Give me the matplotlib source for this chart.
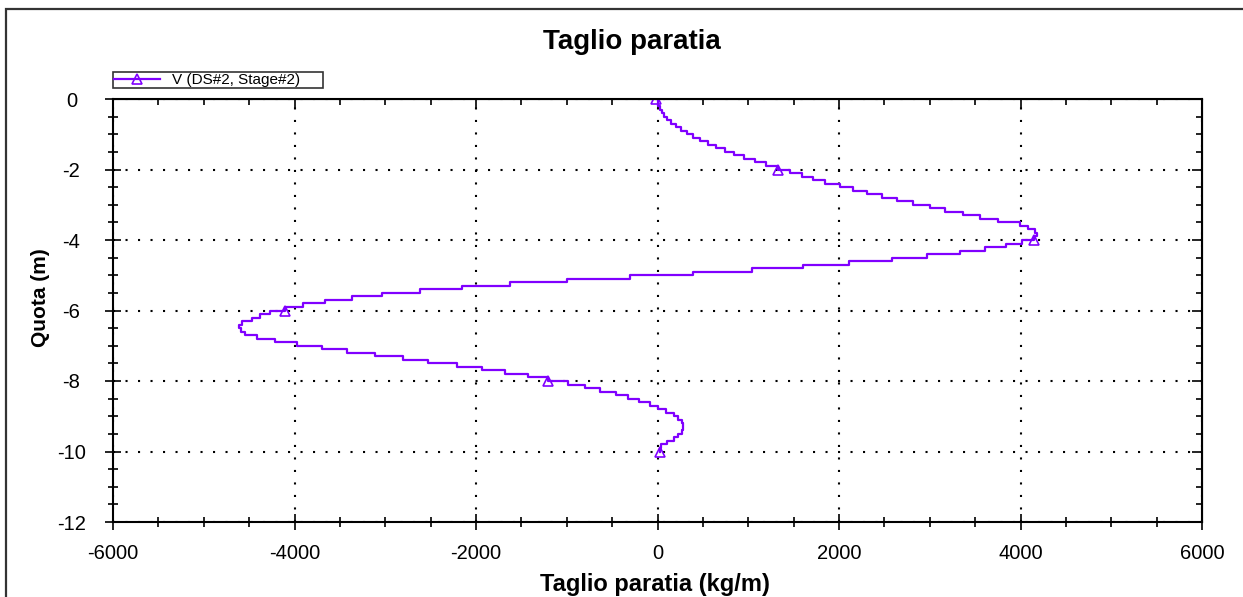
import matplotlib
matplotlib.use('Agg')
import matplotlib.pyplot as plt
from matplotlib.ticker import MultipleLocator
from matplotlib.patches import Rectangle

# depth (m) of each computation node, 0.1 m apart
depth = [0.0, -0.1, -0.2, -0.3, -0.4, -0.5, -0.6, -0.7, -0.8, -0.9,
         -1.0, -1.1, -1.2, -1.3, -1.4, -1.5, -1.6, -1.7, -1.8, -1.9,
         -2.0, -2.1, -2.2, -2.3, -2.4, -2.5, -2.6, -2.7, -2.8, -2.9,
         -3.0, -3.1, -3.2, -3.3, -3.4, -3.5, -3.6, -3.7, -3.8, -3.9,
         -4.0, -4.1, -4.2, -4.3, -4.4, -4.5, -4.6, -4.7, -4.8, -4.9,
         -5.0, -5.1, -5.2, -5.3, -5.4, -5.5, -5.6, -5.7, -5.8, -5.9,
         -6.0, -6.1, -6.2, -6.3, -6.4, -6.5, -6.6, -6.7, -6.8, -6.9,
         -7.0, -7.1, -7.2, -7.3, -7.4, -7.5, -7.6, -7.7, -7.8, -7.9,
         -8.0, -8.1, -8.2, -8.3, -8.4, -8.5, -8.6, -8.7, -8.8, -8.9,
         -9.0, -9.1, -9.2, -9.3, -9.4, -9.5, -9.6, -9.7, -9.8, -9.9,
         -10.0]

# shear V (kg/m)
shear = [-20, 0, 10, 25, 45, 75, 110, 150, 205, 260,
         325, 395, 470, 555, 645, 740, 845, 955, 1075, 1200,
         1330, 1460, 1590, 1715, 1845, 2010, 2155, 2310, 2475, 2640,
         2815, 3000, 3170, 3365, 3555, 3750, 3990, 4085, 4160, 4180,
         4150, 4015, 3840, 3610, 3335, 2970, 2585, 2110, 1605, 1040,
         390, -305, -995, -1625, -2155, -2615, -3035, -3365, -3665, -3905,
         -4105, -4270, -4380, -4470, -4575, -4615, -4595, -4550, -4415, -4215,
         -3970, -3695, -3420, -3115, -2805, -2530, -2210, -1935, -1680, -1425,
         -1205, -985, -800, -635, -455, -325, -205, -85, 5, 95,
         180, 225, 270, 280, 280, 270, 225, 180, 105, 40,
         25]

series_label = 'V (DS#2, Stage#2)'

plt.rcParams['font.family'] = ['Liberation Sans', 'DejaVu Sans']
plt.rcParams['axes.unicode_minus'] = False

fig = plt.figure(figsize=(12.43, 5.97), dpi=100)
ax = fig.add_axes([113/1243, 1 - 522/597, (1202 - 113)/1243, (522 - 99)/597])

ax.plot(shear, depth, color='#8000ff', linewidth=1.6, drawstyle='steps-post',
        marker='^', markersize=6.5, markerfacecolor='none', markeredgewidth=1.2,
        markevery=20, label=series_label)

ax.set_xlim(-6000, 6000)
ax.set_ylim(-12, 0)
ax.xaxis.set_major_locator(MultipleLocator(2000))
ax.xaxis.set_minor_locator(MultipleLocator(500))
ax.yaxis.set_major_locator(MultipleLocator(2))
ax.yaxis.set_minor_locator(MultipleLocator(0.5))

ax.grid(True, which='major', color='black', linestyle=(0, (1, 5)), linewidth=1.5)

ax.tick_params(which='major', direction='inout', length=12, width=1.2, labelsize=14.5)
ax.tick_params(which='minor', direction='inout', length=7, width=1.2)
ax.tick_params(axis='x', which='major', pad=10)
ax.tick_params(axis='y', which='major', pad=24)
for lab in ax.get_yticklabels():
    lab.set_horizontalalignment('center')
for s in ax.spines.values():
    s.set_linewidth(1.5)

# inward ticks on top and right
secx = ax.secondary_xaxis('top')
secx.xaxis.set_major_locator(MultipleLocator(2000))
secx.xaxis.set_minor_locator(MultipleLocator(500))
secx.tick_params(which='major', direction='in', length=7, width=1.2, labeltop=False)
secx.tick_params(which='minor', direction='in', length=4, width=1.2)
secy = ax.secondary_yaxis('right')
secy.yaxis.set_major_locator(MultipleLocator(2))
secy.yaxis.set_minor_locator(MultipleLocator(0.5))
secy.tick_params(which='major', direction='in', length=7, width=1.2, labelright=False)
secy.tick_params(which='minor', direction='in', length=4, width=1.2)

fig.text(632/1243, 1 - 42/597, 'Taglio paratia', ha='center', va='center',
         fontsize=20, fontweight='bold')
fig.text(655/1243, 1 - 585/597, 'Taglio paratia (kg/m)', ha='center', va='center',
         fontsize=17, fontweight='bold')
fig.text(40/1243, 1 - 298/597, 'Quota (m)', ha='center', va='center', rotation=90,
         fontsize=15, fontweight='bold')

leg = fig.legend(loc='lower left',
                 bbox_to_anchor=(113/1243, 1 - 88/597, (323 - 113)/1243, 16/597),
                 mode='expand', fontsize=11, frameon=True, fancybox=False,
                 shadow=False, borderpad=0.05, handlelength=3.0,
                 handletextpad=0.8, borderaxespad=0)
leg.get_frame().set_edgecolor('black')
leg.get_frame().set_linewidth(1.2)

# outer frame of the chart panel
fig.patches.append(Rectangle((6/1243, -0.1), 1.2, 0.985 + 0.1, transform=fig.transFigure,
                             fill=False, edgecolor='#333333', linewidth=1.6))

fig.savefig('out.png', dpi=100)
